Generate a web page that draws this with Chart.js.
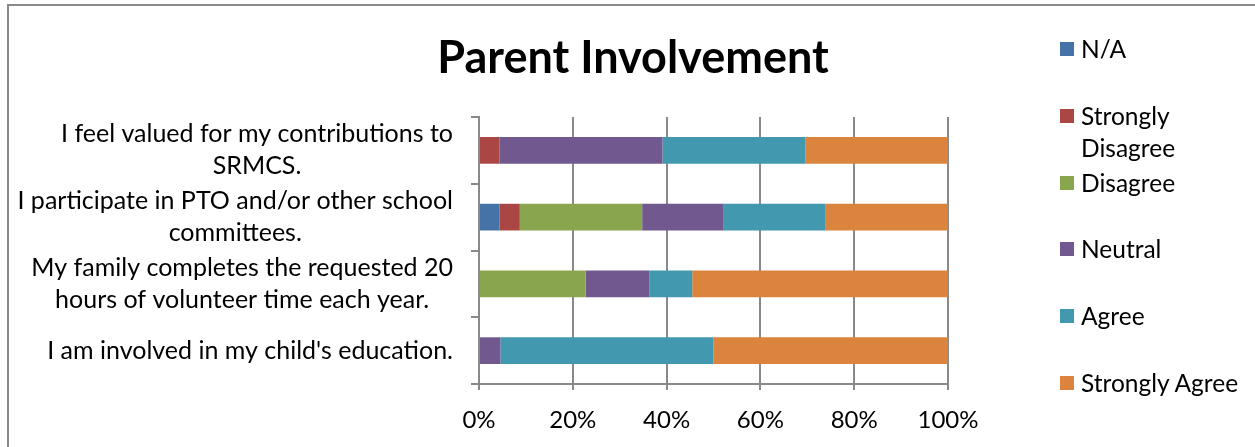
<!DOCTYPE html>
<html>
<head>
<meta charset="utf-8">
<script src="https://cdn.jsdelivr.net/npm/chart.js@4"></script>
<style>
  html, body { margin: 0; padding: 0; background: #fff; }
  #wrap { position: relative; width: 1255px; height: 447px; overflow: hidden; }
  #frame { position: absolute; left: 7px; top: 4px; width: 1300px; height: 500px;
           border-left: 2px solid #898989; border-top: 2px solid #898989; }
  #legend { position: absolute; left: 1060px; top: 0; font-family: Lato, sans-serif;
            font-size: 24.5px; color: #000; }
  .item { position: absolute; left: 0; width: 190px; }
  .swatch { position: absolute; left: 0; width: 14px; height: 14px; }
  .txt { position: absolute; left: 21px; width: 168px; line-height: 32px; }
</style>
</head>
<body>
<div id="wrap">
  <div id="frame"></div>
  <canvas id="chart" width="1255" height="447"></canvas>
  <div id="legend"></div>
</div>
<script>
// survey statements, top to bottom
const statements = [
    ['I feel valued for my contributions to', 'SRMCS.'],
    ['I participate in PTO and/or other school', 'committees.'],
    ['My family completes the requested 20', 'hours of volunteer time each year.'],
    ["I am involved in my child's education."]
];

// share of answers (%) per statement
const naVals       = [0, 4.35, 0, 0];
const strDisVals   = [4.35, 4.35, 0, 0];
const disVals      = [0, 26.09, 22.73, 0];
const neutralVals  = [34.78, 17.39, 13.64, 4.55];
const agreeVals    = [30.43, 21.74, 9.09, 45.45];
const strAgreeVals = [30.43, 26.09, 54.55, 50.0];

const seriesNames = ['N/A', 'Strongly Disagree', 'Disagree', 'Neutral', 'Agree', 'Strongly Agree'];
const seriesColors = ['#4572A7', '#AA4643', '#89A54E', '#71588F', '#4198AF', '#DB843D'];
const xTicks = [0, 20, 40, 60, 80, 100];

const axisGray = '#898989';
const labelFont = '25px Lato, sans-serif';

const allVals = [naVals, strDisVals, disVals, neutralVals, agreeVals, strAgreeVals];
const datasets = seriesNames.map((name, i) => ({
    label: name,
    data: allVals[i],
    backgroundColor: seriesColors[i],
    borderWidth: 0,
    barPercentage: 0.4,
    categoryPercentage: 1.0
}));

// title + statement labels (lines centered, block right aligned)
const textPlugin = {
    id: 'textPlugin',
    afterDraw(chart) {
        const ctx = chart.ctx;
        const yScale = chart.scales.y;
        ctx.save();
        ctx.fillStyle = '#000';
        ctx.textBaseline = 'alphabetic';

        ctx.font = 'bold 45px Lato, sans-serif';
        ctx.textAlign = 'center';
        ctx.fillText('Parent Involvement', 633, 73);

        ctx.font = labelFont;
        const rightEdge = 453;
        const lineH = 32;
        statements.forEach((lines, i) => {
            const yc = yScale.getPixelForValue(i);
            const w = Math.max(...lines.map(l => ctx.measureText(l).width));
            const xc = rightEdge - w / 2;
            const first = yc - (lines.length - 1) * lineH / 2;
            lines.forEach((l, j) => {
                ctx.fillText(l, xc, first + j * lineH + 8);
            });
        });
        ctx.restore();
    }
};

const ctx = document.getElementById('chart').getContext('2d');
new Chart(ctx, {
    type: 'bar',
    data: { labels: statements.map(s => s.join(' ')), datasets: datasets },
    options: {
        indexAxis: 'y',
        responsive: false,
        animation: false,
        layout: { padding: { left: 0, right: 307, top: 117, bottom: 0 } },
        plugins: {
            legend: { display: false },
            title: { display: false },
            tooltip: { enabled: false }
        },
        scales: {
            x: {
                stacked: true,
                min: 0,
                max: 100,
                afterBuildTicks(scale) { scale.ticks = xTicks.map(v => ({ value: v })); },
                afterFit(scale) { scale.height = 63; },
                ticks: {
                    color: '#000',
                    font: { family: 'Lato, sans-serif', size: 24 },
                    padding: 16,
                    maxRotation: 0,
                    callback: v => v + '%'
                },
                grid: { color: axisGray, lineWidth: 2, tickLength: 6 },
                border: { display: true, color: axisGray, width: 2 }
            },
            y: {
                stacked: true,
                afterFit(scale) { scale.width = 479; },
                ticks: { display: false },
                grid: { drawOnChartArea: false, color: axisGray, lineWidth: 2, tickLength: 8, offset: true },
                border: { display: true, color: axisGray, width: 2 }
            }
        }
    },
    plugins: [textPlugin]
});

// legend column on the right
const legendTop = 49, legendStep = 66.8;
const legend = document.getElementById('legend');
seriesNames.forEach((name, i) => {
    const yc = legendTop + legendStep * i;
    const item = document.createElement('div');
    item.className = 'item';
    item.style.top = (yc - 16) + 'px';
    item.innerHTML = '<div class="swatch" style="top:9px;background:' + seriesColors[i] + '"></div>' +
        '<div class="txt">' + name + '</div>';
    legend.appendChild(item);
});
</script>
</body>
</html>
